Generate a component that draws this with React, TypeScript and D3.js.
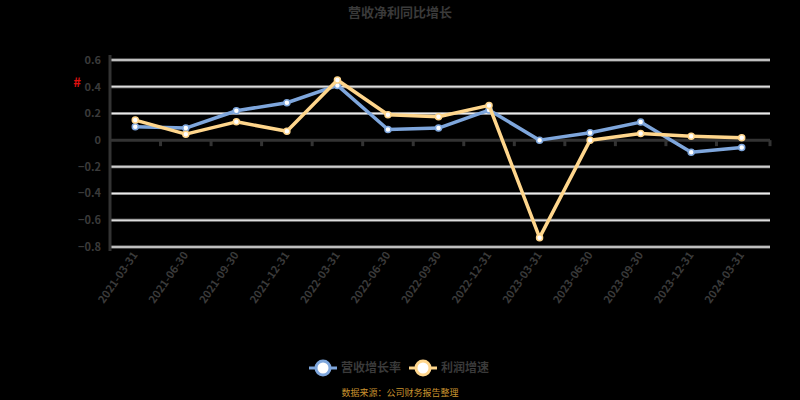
import React from "react";
import * as d3 from "d3";

const categories = [
  "2021-03-31", "2021-06-30", "2021-09-30", "2021-12-31", "2022-03-31",
  "2022-06-30", "2022-09-30", "2022-12-31", "2023-03-31", "2023-06-30",
  "2023-09-30", "2023-12-31", "2024-03-31",
];
const seriesA = [0.1, 0.09, 0.22, 0.28, 0.41, 0.08, 0.09, 0.225, 0.0, 0.055, 0.135, -0.09, -0.055];
const seriesB = [0.15, 0.045, 0.137, 0.067, 0.45, 0.19, 0.175, 0.26, -0.73, 0.0, 0.05, 0.03, 0.017];
const seriesNames = ["营收增长率", "利润增速"];
const yTicks = [0.6, 0.4, 0.2, 0, -0.2, -0.4, -0.6, -0.8];
const title = "营收净利同比增长";
const source = "数据来源：公司财务报告整理";

const W = 800, H = 400;
const left = 110, right = 767, top = 60, bottom = 247;
const TEXT = "#3a3a3a";
const BLUE = "#7ea6dc";
const YELLOW = "#ffd68c";

export default function App() {
  const x = d3.scaleBand<string>().domain(categories).range([left, right]);
  const y = d3.scaleLinear().domain([-0.8, 0.6]).range([bottom, top]);
  const cx = (c: string) => (x(c) ?? 0) + x.bandwidth() / 2;
  const line = d3.line<number>().x((_, i) => cx(categories[i])).y((d) => y(d));
  const series = [
    { name: seriesNames[0], data: seriesA, color: BLUE, lx: 309, tx: 341 },
    { name: seriesNames[1], data: seriesB, color: YELLOW, lx: 409, tx: 441 },
  ];
  return (
    <div style={{ position: "fixed", left: 0, top: 0 }}>
      <svg width={W} height={H} style={{ display: "block", fontFamily: "'Noto Sans CJK SC', 'Noto Sans', sans-serif" }}>
        <rect x={0} y={0} width={W} height={H} fill="#000" />
        <text x={400} y={17} textAnchor="middle" fontSize={13} fontWeight="bold" fill={TEXT}>{title}</text>
        {yTicks.map((t) => (
          <g key={t}>
            {t !== 0 && (
              <>
                <line x1={left} x2={right + 3} y1={y(t)} y2={y(t)} stroke="#8a8a8a" strokeWidth={3} />
                <line x1={left} x2={right + 3} y1={y(t)} y2={y(t)} stroke="#f4f4f4" strokeWidth={1} />
              </>
            )}
            <text x={101} y={y(t)} dy="0.35em" textAnchor="end" fontSize={11} fontWeight="bold" fill={TEXT}>{t === 0 ? "0" : d3.format(".1f")(t)}</text>
          </g>
        ))}
        <text x={77} y={87} textAnchor="middle" fontSize={13} fontWeight="bold" fill="#e01010">#</text>
        <line x1={left} x2={left} y1={top - 5} y2={bottom + 4} stroke="#333" strokeWidth={3} />
        <line x1={left} x2={right + 3} y1={y(0)} y2={y(0)} stroke="#333" strokeWidth={3} />
        {categories.slice(1).map((c) => (
          <line key={c} x1={x(c)} x2={x(c)} y1={y(0)} y2={y(0) + 6} stroke="#333" strokeWidth={3} />
        ))}
        <line x1={right + 3} x2={right + 3} y1={y(0)} y2={y(0) + 6} stroke="#333" strokeWidth={3} />
        {categories.map((c) => (
          <text key={c} transform={`translate(${cx(c) + 3},${bottom + 8}) rotate(-55)`} textAnchor="end" fontSize={11} fontWeight="bold" fill={TEXT}>{c}</text>
        ))}
        {series.map((s) => (
          <g key={s.name}>
            <path d={line(s.data) ?? ""} fill="none" stroke={s.color} strokeWidth={3.5} strokeLinejoin="round" />
            {s.data.map((v, i) => (
              <circle key={i} cx={cx(categories[i])} cy={y(v)} r={3} fill="#fff" stroke={s.color} strokeWidth={1.5} />
            ))}
          </g>
        ))}
        {series.map((s) => (
          <g key={s.name}>
            <line x1={s.lx} x2={s.lx + 28} y1={368} y2={368} stroke={s.color} strokeWidth={3} />
            <circle cx={s.lx + 14} cy={368} r={7} fill="#fff" stroke={s.color} strokeWidth={3} />
            <text x={s.tx} y={368} dy="0.35em" fontSize={12} fontWeight="bold" fill={TEXT}>{s.name}</text>
          </g>
        ))}
        <text x={400} y={396} textAnchor="middle" fontSize={9} fill="#c8922e">{source}</text>
      </svg>
    </div>
  );
}
